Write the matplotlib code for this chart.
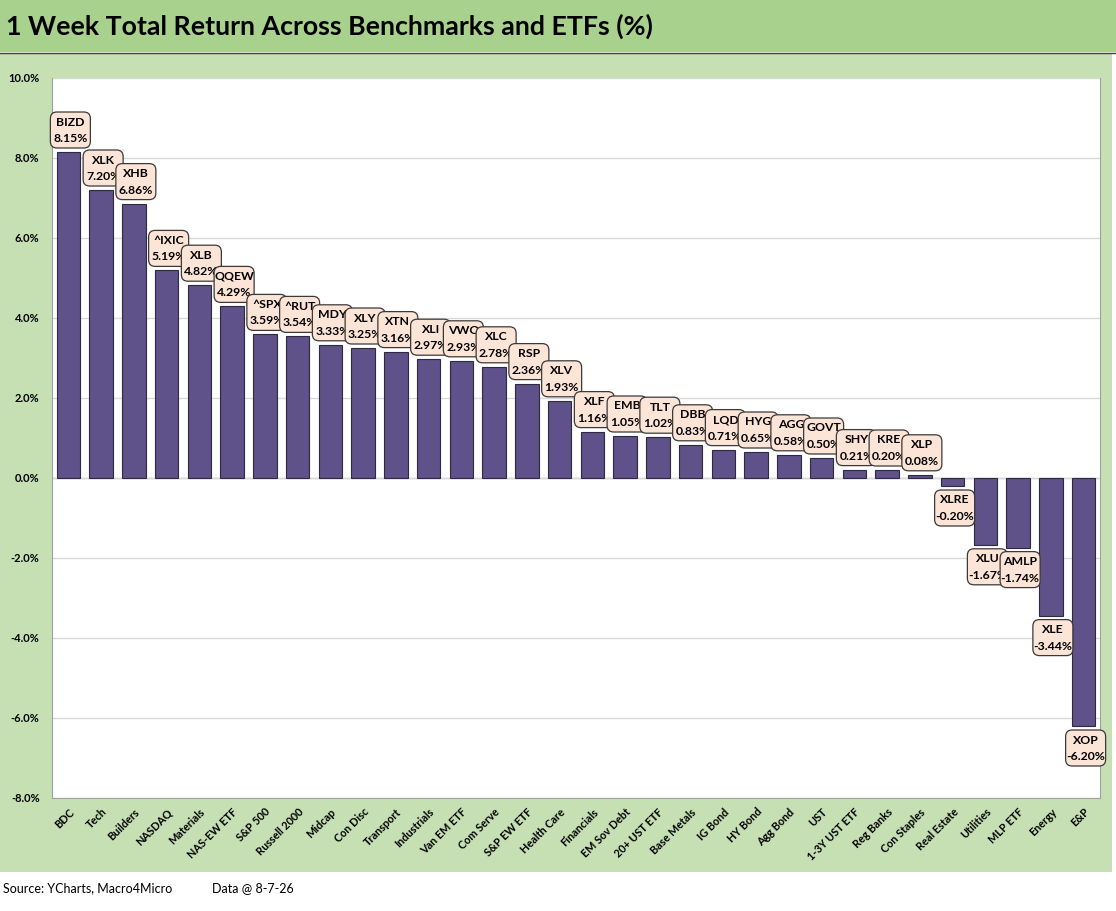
import matplotlib
matplotlib.use("Agg")
import matplotlib.pyplot as plt
import numpy as np
from matplotlib.patches import Rectangle, FancyBboxPatch
from matplotlib.ticker import FuncFormatter

plt.rcParams['font.family'] = ['Lato', 'DejaVu Sans']

# data
categories = ["BDC", "Tech", "Builders", "NASDAQ", "Materials", "NAS-EW ETF",
              "S&P 500", "Russell 2000", "Midcap", "Con Disc", "Transport",
              "Industrials", "Van EM ETF", "Com Serve", "S&P EW ETF", "Health Care",
              "Financials", "EM Sov Debt", "20+ UST ETF", "Base Metals", "IG Bond",
              "HY Bond", "Agg Bond", "UST", "1-3Y UST ETF", "Reg Banks",
              "Con Staples", "Real Estate", "Utilities", "MLP ETF", "Energy", "E&P"]
tickers = ["BIZD", "XLK", "XHB", "^IXIC", "XLB", "QQEW", "^SPX", "^RUT", "MDY",
           "XLY", "XTN", "XLI", "VWO", "XLC", "RSP", "XLV", "XLF", "EMB", "TLT",
           "DBB", "LQD", "HYG", "AGG", "GOVT", "SHY", "KRE", "XLP", "XLRE", "XLU",
           "AMLP", "XLE", "XOP"]
returns = [8.15, 7.20, 6.86, 5.19, 4.82, 4.29, 3.59, 3.54, 3.33, 3.25, 3.16,
           2.97, 2.93, 2.78, 2.36, 1.93, 1.16, 1.05, 1.02, 0.83, 0.71, 0.65,
           0.58, 0.50, 0.21, 0.20, 0.08, -0.20, -1.67, -1.74, -3.44, -6.20]

W, H = 1116, 911
fig = plt.figure(figsize=(W / 100, H / 100), dpi=100)
fig.patch.set_facecolor("white")

# background bands
fig.patches.append(Rectangle((0, 1 - 872 / H), 1112 / W, (872 - 53) / H,
                             transform=fig.transFigure, facecolor="#c6e0b4",
                             edgecolor="none", zorder=-2))
fig.patches.append(Rectangle((0, 1 - 52 / H), 1, 52 / H, transform=fig.transFigure,
                             facecolor="#a9d18e", edgecolor="none", zorder=-2))
fig.lines.append(plt.Line2D([0, 1], [1 - 52.5 / H] * 2, transform=fig.transFigure,
                            color="#404040", lw=1.0, zorder=-1))

fig.text(6 / W, 1 - 35 / H, "1 Week Total Return Across Benchmarks and ETFs (%)",
         fontsize=19.3, fontweight="bold", va="baseline", ha="left", color="black")

left, right, top, bottom = 52, 1100, 78, 798
ax = fig.add_axes([left / W, 1 - bottom / H, (right - left) / W, (bottom - top) / H])
ax.set_zorder(1)
ax.set_facecolor("white")

n = len(categories)
x = np.arange(n)
ax.bar(x, returns, width=0.72, color="#5f5189", edgecolor="#2e2a3e",
       linewidth=0.8, zorder=2)

ax.set_xlim(-0.5, n - 0.5)
ax.set_ylim(-8, 10)
ax.set_yticks(np.arange(-8, 10.1, 2))
ax.yaxis.set_major_formatter(FuncFormatter(lambda v, p: f"{v:.1f}%"))
ax.grid(axis="y", color="#d9d9d9", lw=1.0, zorder=0)
ax.axhline(0, color="#d0d0d0", lw=1.0, zorder=1)
ax.set_xticks(x)
ax.set_xticklabels(categories, rotation=45, ha="right", rotation_mode="anchor",
                   fontsize=7.8, fontweight="bold")
for lab in ax.get_yticklabels():
    lab.set_fontweight("bold")
    lab.set_fontsize(8)
ax.tick_params(length=0)
ax.tick_params(axis="y", pad=9)
ax.tick_params(axis="x", pad=6)
for side in ["left", "bottom", "right"]:
    ax.spines[side].set_color("#a0a0a0")
ax.spines["top"].set_visible(False)

# label boxes: fixed pixel size, drawn in order so later ones overlap earlier
px_x = n / (right - left)          # data units per pixel in x
px_y = 18 / (bottom - top)         # data units per pixel in y
bw, bh = 40 * px_x, 36 * px_y
gap = 4 * px_y
for i, (tk, v) in enumerate(zip(tickers, returns)):
    cx = i + 2 * px_x
    if v >= 0:
        y0 = v + gap
    else:
        y0 = v - gap - bh
    z = 3 + 2 * i
    box = FancyBboxPatch((cx - bw / 2, y0), bw, bh,
                         boxstyle="round,pad=0,rounding_size=0.2",
                         mutation_aspect=px_y / px_x,
                         facecolor="#fce4d6", edgecolor="#3a3a3a", lw=0.9,
                         zorder=z, clip_on=False)
    ax.add_patch(box)
    ax.text(cx, y0 + bh / 2 + 8 * px_y, tk, ha="center", va="center",
            fontsize=8.8, fontweight="bold", zorder=z + 1, clip_on=False)
    ax.text(cx, y0 + bh / 2 - 8.5 * px_y, f"{v:.2f}%", ha="center", va="center",
            fontsize=8.8, fontweight="bold", zorder=z + 1, clip_on=False)

fig.text(3 / W, 1 - 888 / H, "Source: YCharts, Macro4Micro", fontsize=9,
         va="center", ha="left")
fig.text(212 / W, 1 - 888 / H, "Data @ 8-7-26", fontsize=9, va="center", ha="left")

fig.savefig("out.png", dpi=100)
